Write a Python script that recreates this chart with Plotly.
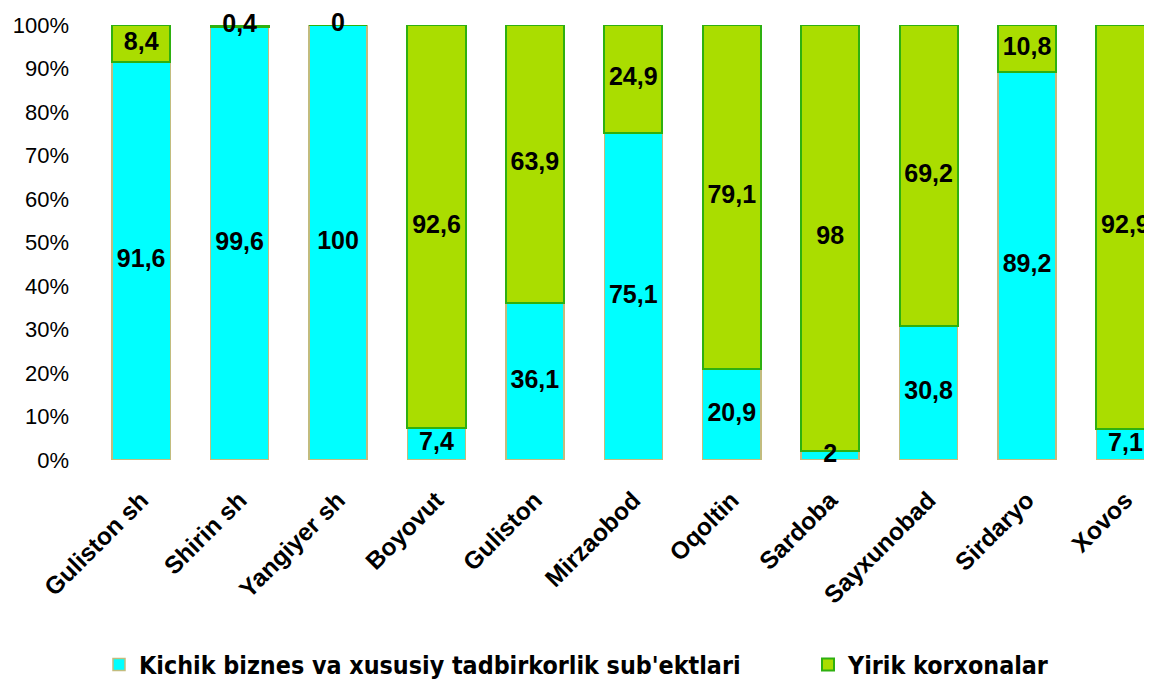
import plotly.graph_objects as go

categories = ["Guliston sh", "Shirin sh", "Yangiyer sh", "Boyovut", "Guliston",
              "Mirzaobod", "Oqoltin", "Sardoba", "Sayxunobad", "Sirdaryo", "Xovos"]
small_biz = [91.6, 99.6, 100, 7.4, 36.1, 75.1, 20.9, 2, 30.8, 89.2, 7.1]
large_ent = [8.4, 0.4, 0, 92.6, 63.9, 24.9, 79.1, 98, 69.2, 10.8, 92.9]
series_names = ["Kichik biznes va xususiy tadbirkorlik sub'ektlari", "Yirik korxonalar"]
y_ticks = [0, 10, 20, 30, 40, 50, 60, 70, 80, 90, 100]


def fmt(v):
    return ("%g" % v).replace(".", ",")


legend_font = dict(family="DejaVu Sans Condensed, Liberation Sans Narrow, Arial Narrow",
                   size=24.8, color="#000000", weight="bold")

fig = go.Figure()
fig.add_trace(go.Bar(
    x=categories, y=small_biz, name=series_names[0], legend="legend",
    marker=dict(color="#00FFFF", line=dict(color="#C2BC7E", width=1.5)),
    width=0.59, hoverinfo="skip"))
fig.add_trace(go.Bar(
    x=categories, y=large_ent, name=series_names[1], legend="legend2",
    marker=dict(color="#AADD00", line=dict(color="#2EB010", width=2)),
    width=0.59, hoverinfo="skip"))

# data labels at segment midpoints
lab_x, lab_y, lab_t = [], [], []
for c, a, b in zip(categories, small_biz, large_ent):
    lab_x += [c, c]
    lab_y += [a / 2, a + b / 2]
    lab_t += [fmt(a), fmt(b)]
fig.add_trace(go.Scatter(
    x=lab_x, y=lab_y, text=lab_t, mode="text", showlegend=False,
    textfont=dict(family="Liberation Sans, Arial", size=25, color="#000000"),
    texttemplate="<b>%{text}</b>", hoverinfo="skip", cliponaxis=False))

# page is shown with an 8px body margin, so figure coords are page coords - 8
fig.update_layout(
    barmode="stack",
    width=1152, height=679,
    margin=dict(l=84, r=8, t=17, b=227, autoexpand=False),
    plot_bgcolor="white", paper_bgcolor="white",
    showlegend=True,
    legend=dict(xref="container", yref="container", x=91 / 1152, xanchor="left",
                y=1 - 657 / 679, yanchor="middle", font=legend_font,
                bgcolor="rgba(0,0,0,0)"),
    legend2=dict(xref="container", yref="container", x=800 / 1152, xanchor="left",
                 y=1 - 657 / 679, yanchor="middle", font=legend_font,
                 bgcolor="rgba(0,0,0,0)"),
    font=dict(family="Liberation Sans, Arial", color="#000000"),
)
fig.update_xaxes(
    range=[-0.5, 10.27], tickangle=-45, showline=False, showgrid=False, ticks="",
    automargin=False, ticklabelstandoff=20,
    tickfont=dict(family="Liberation Sans, Arial", size=24.5, color="#000000"),
    tickvals=categories, ticktext=["<b>%s</b>" % c for c in categories])
fig.update_yaxes(
    range=[0, 100], tickvals=y_ticks, ticktext=["%d%%" % t for t in y_ticks],
    showline=False, showgrid=False, zeroline=False, ticks="",
    automargin=False,
    tickfont=dict(family="Liberation Sans, Arial", size=22, color="#000000"),
    ticklabelstandoff=22)

fig.write_html("out.html")
